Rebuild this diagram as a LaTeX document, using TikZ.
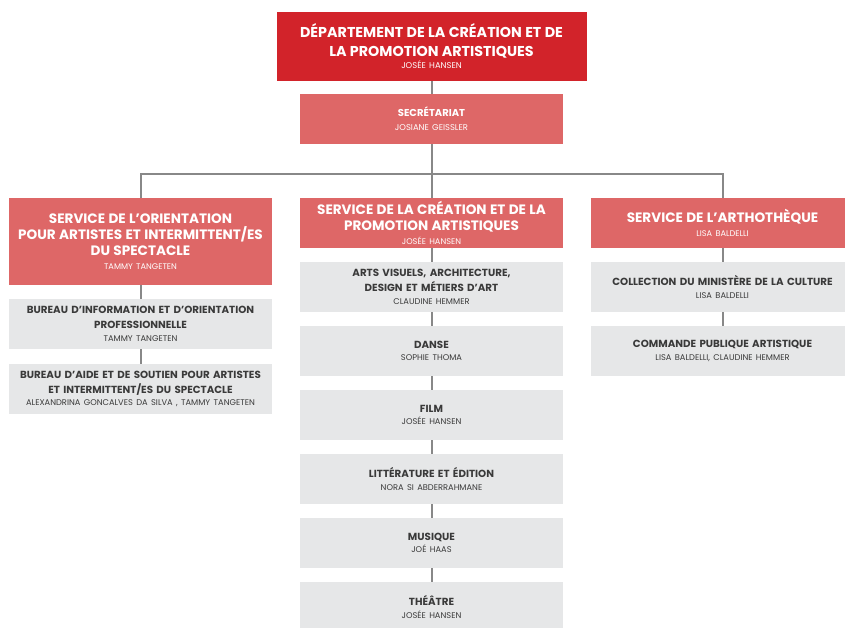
\documentclass[tikz,border=0pt]{standalone}
\usepackage{fontspec}
\setmainfont{Poppins}

\definecolor{deptred}{HTML}{D2232A}
\definecolor{svcred}{HTML}{DE6767}
\definecolor{unitgray}{HTML}{E6E7E8}
\definecolor{textgray}{HTML}{3A3A3A}
\definecolor{linkgray}{HTML}{888888}

% text blocks: bold title lines, then a smaller name line
\newcommand\headlines[2]{{\fontsize{14.3}{19}\selectfont\bfseries #1\par}{\fontsize{8.4}{12}\selectfont #2\par}}
\newcommand\seclines[2]{{\fontsize{10}{14}\selectfont\bfseries #1\par}{\fontsize{8.4}{14}\selectfont #2\par}}
\newcommand\svclines[2]{{\fontsize{13.6}{16}\selectfont\bfseries #1\par}{\fontsize{8.2}{14}\selectfont #2\par}}
\newcommand\unitlines[2]{{\fontsize{10.3}{15}\selectfont\bfseries #1\par}{\fontsize{8.3}{12.5}\selectfont #2\par}}

\tikzset{
  orgbox/.style={rectangle, inner sep=0pt, minimum width=263pt, minimum height=50pt,
    text width=263pt, align=center},
  headbox/.style={orgbox, fill=deptred, text=white, minimum width=310pt, text width=310pt,
    minimum height=69pt},
  svcbox/.style={orgbox, fill=svcred, text=white},
  unitbox/.style={orgbox, fill=unitgray, text=textgray},
  link/.style={draw=linkgray, line width=2pt}
}

\begin{document}
\begin{tikzpicture}[x=1pt, y=-1pt]
\clip (0,0) rectangle (845,628);

% direction
\node[headbox] (dept) at (431.5,46.5)
  {\headlines{DÉPARTEMENT DE LA CRÉATION ET DE\\LA PROMOTION ARTISTIQUES}{JOSÉE HANSEN}};
\node[svcbox] (sec) at (431.5,119)
  {\seclines{SECRÉTARIAT}{JOSIANE GEISSLER}};

% services
\node[svcbox, minimum height=86pt] (orient) at (140.5,241.5)
  {\svclines{SERVICE DE L’ORIENTATION\\POUR ARTISTES ET INTERMITTENT/ES\\DU SPECTACLE}{TAMMY TANGETEN}};
\node[svcbox] (creation) at (431.5,223)
  {\svclines{SERVICE DE LA CRÉATION ET DE LA\\PROMOTION ARTISTIQUES}{JOSÉE HANSEN}};
\node[svcbox] (artho) at (722.5,223)
  {\svclines{SERVICE DE L’ARTHOTHÈQUE}{LISA BALDELLI}};

% units of the orientation service
\node[unitbox] (bio) at (140.5,324)
  {\unitlines{BUREAU D’INFORMATION ET D’ORIENTATION\\PROFESSIONNELLE}{TAMMY TANGETEN}};
\node[unitbox] (bas) at (140.5,389)
  {\unitlines{BUREAU D’AIDE ET DE SOUTIEN POUR ARTISTES\\ET INTERMITTENT/ES DU SPECTACLE}{ALEXANDRINA GONCALVES DA SILVA , TAMMY TANGETEN}};

% units of the creation service
\node[unitbox] (arts) at (431.5,287)
  {\unitlines{ARTS VISUELS, ARCHITECTURE,\\DESIGN ET MÉTIERS D’ART}{CLAUDINE HEMMER}};
\node[unitbox] (danse) at (431.5,351)
  {\unitlines{DANSE}{SOPHIE THOMA}};
\node[unitbox] (film) at (431.5,415)
  {\unitlines{FILM}{JOSÉE HANSEN}};
\node[unitbox] (litt) at (431.5,479)
  {\unitlines{LITTÉRATURE ET ÉDITION}{NORA SI ABDERRAHMANE}};
\node[unitbox] (musique) at (431.5,543)
  {\unitlines{MUSIQUE}{JOÉ HAAS}};
\node[unitbox] (theatre) at (431.5,607)
  {\unitlines{THÉÂTRE}{JOSÉE HANSEN}};

% units of the artothèque
\node[unitbox] (collection) at (722.5,287)
  {\unitlines{COLLECTION DU MINISTÈRE DE LA CULTURE}{LISA BALDELLI}};
\node[unitbox] (commande) at (722.5,351)
  {\unitlines{COMMANDE PUBLIQUE ARTISTIQUE}{LISA BALDELLI, CLAUDINE HEMMER}};

% connectors
\coordinate (bar) at (431.5,174);
\draw[link] (dept) -- (sec);
\draw[link] (sec) -- (creation);
\draw[link] (orient.north) |- (bar) -| (artho.north);
\draw[link] (orient) -- (bio);
\draw[link] (bio) -- (bas);
\draw[link] (creation) -- (arts);
\draw[link] (arts) -- (danse);
\draw[link] (danse) -- (film);
\draw[link] (film) -- (litt);
\draw[link] (litt) -- (musique);
\draw[link] (musique) -- (theatre);
\draw[link] (artho) -- (collection);
\draw[link] (collection) -- (commande);
\end{tikzpicture}
\end{document}
